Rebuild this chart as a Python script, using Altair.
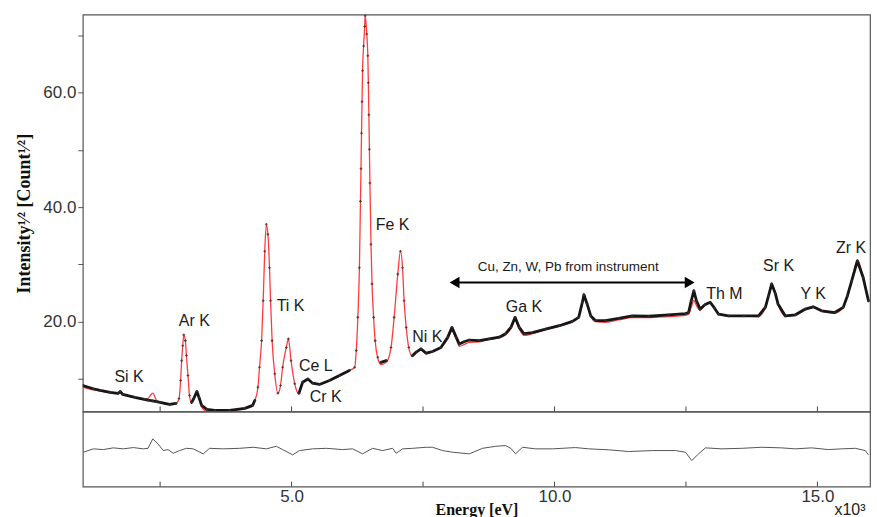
import altair as alt
import pandas as pd

# ---------------- data ----------------
energy_kev = [1.03, 1.23, 1.36, 1.55, 1.70, 1.74, 1.79, 2.02, 2.20, 2.27, 2.36, 2.43, 2.50, 2.68, 2.80,
              2.86, 2.89, 2.91, 2.93, 2.95, 2.98, 3.00, 3.03, 3.06, 3.10, 3.14, 3.20, 3.24, 3.29, 3.39,
              3.54, 3.82, 4.11, 4.26, 4.30, 4.36, 4.39, 4.43, 4.46, 4.49, 4.52, 4.55, 4.58, 4.60, 4.63,
              4.68, 4.74, 4.79, 4.83, 4.90, 4.94, 4.99, 5.06, 5.14, 5.21, 5.31, 5.40, 5.53, 5.72, 5.91,
              6.10, 6.20, 6.23, 6.26, 6.29, 6.31, 6.32, 6.33, 6.34, 6.35, 6.37, 6.39, 6.40, 6.43, 6.45,
              6.46, 6.47, 6.48, 6.49, 6.51, 6.53, 6.56, 6.59, 6.64, 6.70, 6.80, 6.89, 6.95, 7.02, 7.07,
              7.11, 7.14, 7.18, 7.23, 7.30, 7.37, 7.46, 7.56, 7.68, 7.84, 7.97, 8.05, 8.13, 8.19, 8.28,
              8.38, 8.57, 8.76, 8.95, 9.07, 9.17, 9.25, 9.33, 9.42, 9.58, 9.83, 10.09, 10.34, 10.46, 10.53,
              10.56, 10.62, 10.69, 10.78, 10.97, 11.22, 11.48, 11.79, 12.17, 12.49, 12.55, 12.60, 12.65, 12.70, 12.77,
              12.86, 12.96, 13.04, 13.12, 13.31, 13.60, 13.88, 14.01, 14.07, 14.13, 14.20, 14.25, 14.39, 14.58, 14.77,
              14.92, 15.08, 15.33, 15.49, 15.57, 15.65, 15.76, 15.87, 15.97]

measured = [8.87, 8.3, 8.0, 7.65, 7.48, 7.83, 7.30, 6.78, 6.45, 6.3, 6.17, 6.05, 5.91, 5.57, 5.74,
            6.6, 9.74, 13.2, 15.8, 17.7, 16.7, 14.1, 10.6, 7.13, 5.91, 6.6, 7.83, 6.78, 5.39, 4.70,
            4.52, 4.52, 4.87, 5.39, 6.26, 8.57, 12.05, 16.7, 23.65, 32.3, 37.0, 35.25, 29.4, 23.65, 16.7,
            10.9, 7.53, 8.87, 12.05, 15.5, 17.0, 13.2, 9.17, 7.53, 9.44, 10.0, 9.27, 9.04, 9.74, 10.6,
            11.5, 12.05, 14.96, 20.75, 29.4, 41.0, 46.7, 52.9, 58.4, 63.8, 68.1, 71.5, 73.4, 70.2, 66.4,
            61.7, 56.1, 50.1, 44.2, 33.5, 26.6, 20.75, 16.7, 13.8, 12.9, 13.2, 15.5, 20.75, 28.3, 32.3,
            29.4, 23.65, 19.0, 15.5, 14.1, 14.7, 15.25, 14.5, 14.8, 15.5, 17.3, 19.0, 17.3, 16.1, 16.5,
            16.8, 16.7, 17.0, 17.3, 17.9, 19.0, 20.75, 19.0, 17.9, 18.1, 18.7, 19.3, 20.05, 20.75, 23.4,
            24.7, 23.1, 21.0, 20.2, 20.2, 20.6, 21.0, 20.95, 21.2, 21.4, 21.6, 23.65, 25.4, 23.65, 22.2,
            22.95, 23.4, 22.4, 21.3, 21.0, 21.0, 21.0, 22.5, 24.5, 26.6, 24.9, 23.1, 21.0, 21.2, 22.2,
            22.6, 21.9, 21.6, 22.5, 24.5, 27.1, 30.6, 27.7, 23.65]

fit = [8.6, 8.1, 7.9, 7.6, 7.45, 7.6, 7.3, 6.75, 6.4, 6.6, 7.55, 6.3, 5.9, 5.5, 5.7,
       6.6, 9.74, 13.2, 15.8, 17.6, 16.7, 14.1, 10.6, 7.0, 5.8, 6.6, 7.7, 6.7, 5.1, 4.4,
       4.45, 4.5, 4.8, 5.3, 6.2, 8.5, 12.0, 16.7, 23.65, 32.3, 37.0, 35.25, 29.4, 23.65, 16.7,
       10.9, 7.5, 8.87, 12.05, 15.5, 17.0, 13.2, 9.17, 7.4, 9.3, 9.9, 9.3, 9.1, 9.7, 10.5,
       11.5, 12.05, 14.96, 20.75, 29.4, 41.0, 46.7, 52.9, 58.4, 63.8, 68.1, 71.5, 73.5, 70.2, 66.4,
       61.7, 56.1, 50.1, 44.2, 33.5, 26.6, 20.75, 16.6, 13.6, 12.5, 12.9, 15.4, 20.75, 28.3, 32.3,
       29.4, 23.65, 19.0, 15.4, 13.9, 14.5, 15.1, 14.4, 14.8, 15.5, 17.0, 18.4, 17.0, 15.7, 16.0,
       16.4, 16.5, 16.9, 17.2, 17.7, 18.8, 20.3, 18.7, 17.6, 17.9, 18.6, 19.2, 20.0, 20.8, 23.4,
       24.7, 23.1, 21.0, 20.0, 19.9, 20.3, 20.7, 20.7, 20.9, 21.1, 21.3, 22.5, 23.7, 22.8, 22.0,
       22.9, 23.4, 22.4, 21.3, 21.0, 21.0, 20.9, 22.5, 24.5, 26.6, 24.9, 23.1, 21.0, 21.1, 22.1,
       22.5, 21.8, 21.5, 22.5, 24.5, 27.1, 30.8, 27.7, 23.4]

res_energy = [1.04, 1.23, 1.42, 1.61, 1.80, 1.99, 2.18, 2.27, 2.36, 2.46, 2.56, 2.65, 2.75, 2.87, 3.00,
              3.13, 3.32, 3.44, 3.70, 4.01, 4.27, 4.52, 4.71, 4.83, 5.02, 5.15, 5.40, 5.66, 5.97, 6.16,
              6.35, 6.54, 6.73, 6.92, 6.99, 7.11, 7.30, 7.56, 7.68, 7.87, 8.06, 8.38, 8.63, 8.88, 9.07,
              9.17, 9.26, 9.39, 9.64, 9.96, 10.40, 10.65, 11.03, 11.41, 11.86, 12.30, 12.49, 12.61, 12.74, 12.87,
              13.18, 13.56, 13.94, 14.32, 14.58, 14.89, 15.21, 15.46, 15.72, 15.91, 15.97]
residual = [-0.42, 0.03, -0.07, 0.16, 0.03, 0.2, 0.03, 0.1, 1.36, 0.69, -0.2, -0.07, -0.56, -0.2, 0.1,
            0.03, -0.64, 0.1, 0.03, 0.1, 0.24, 0.03, 0.37, -0.07, -0.77, -0.2, 0.03, 0.1, -0.07, 0.03,
            -0.64, 0.1, -0.2, 0.1, -0.56, 0.03, 0.1, 0.24, 0.24, -0.2, -0.42, -0.64, 0.1, 0.37, 0.47,
            0.1, -0.64, 0.24, 0.03, 0.03, 0.2, 0.03, -0.1, -0.33, -0.2, -0.2, -0.42, -1.53, -0.64, 0.16,
            0.03, 0.1, 0.24, 0.16, 0.03, 0.16, -0.07, 0.03, 0.1, -0.2, -0.77]

x_ticks = [2.5, 5.0, 7.5, 10.0, 12.5, 15.0]
x_labels = [5.0, 10.0, 15.0]
y_ticks = [10, 20, 30, 40, 50, 60, 70]

peak_names = ["Si K", "Ar K", "Ti K", "Ce L", "Cr K", "Fe K", "Ni K", "Ga K", "Th M", "Sr K", "Y K", "Zr K"]
peak_E = [1.91, 3.15, 4.98, 5.46, 5.65, 6.92, 7.58, 9.42, 13.23, 14.26, 14.92, 15.64]
peak_I = [10.35, 20.2, 22.8, 12.35, 6.8, 36.9, 17.3, 22.6, 24.8, 29.7, 24.8, 32.8]

note_text = ["Cu, Zn, W, Pb from instrument"]
note_E = [10.26]
note_I = [29.6]
arrow_E = [8.10, 12.57]
arrow_I = [26.85, 26.85]
arrow_shape = ["triangle-left", "triangle-right"]

# ---------------- scales / axes ----------------
X_DOM = [1.03, 16.0]
Y_DOM = [4.3, 73.6]
R_DOM = [-5.0, 5.0]
xs = alt.Scale(domain=X_DOM, nice=False, zero=False)
ys = alt.Scale(domain=Y_DOM, nice=False, zero=False)
rs = alt.Scale(domain=R_DOM, nice=False, zero=False)

SANS = "Liberation Sans"
SERIF = "Liberation Serif"

y_axis = alt.Axis(values=y_ticks,
                  labelExpr="datum.value % 20 == 0 ? format(datum.value, '.1f') : ''",
                  title="Intensity¹⁄² [Count¹⁄²]", titleFont=SERIF, titleFontWeight="bold",
                  titleFontSize=18, titleColor="#111", titleX=-53, titleY=199,
                  titleBaseline="alphabetic", titleAngle=270,
                  labelFont=SANS, labelFontSize=17, labelColor="#333", labelPadding=2,
                  tickSize=5, tickColor="#555", domain=False, grid=False)

x_axis = alt.Axis(values=x_labels, format=".1f", title="Energy [eV]",
                  titleFont=SERIF, titleFontWeight="bold", titleFontSize=16, titleColor="#111",
                  titleY=15, titleBaseline="top",
                  labelFont=SANS, labelFontSize=17, labelColor="#333", labelPadding=2,
                  tickSize=0, domain=False, grid=False)

X_top = alt.X("E:Q", scale=xs, axis=None)
Y_top = alt.Y("I:Q", scale=ys, axis=y_axis)

spec = pd.DataFrame({"E": energy_kev, "I": measured})
spec_fit = pd.DataFrame({"E": energy_kev, "I": fit})

# red fitted curve
red_line = alt.Chart(spec_fit).mark_line(color="#ff3c3c", strokeWidth=1.3, interpolate="monotone",
                                         strokeJoin="round", clip=True).encode(x=X_top, y=Y_top)

# measured spectrum: dense markers merge into a thick black band where the
# spectrum is flat; on the steep flanks of the peaks only separate markers show
black_band = alt.Chart(spec).transform_window(
    pI="lag(I)", pE="lag(E)", nI="lead(I)", nE="lead(E)", sort=[alt.SortField("E")]
).transform_calculate(
    sp="isValid(datum.pI) ? abs(datum.I - datum.pI) / (datum.E - datum.pE) : 0",
    sn="isValid(datum.nI) ? abs(datum.nI - datum.I) / (datum.nE - datum.E) : 0",
).transform_calculate(
    Iflat="max(datum.sp, datum.sn) < 45 ? datum.I : null",
).mark_line(color="#161616", strokeWidth=2.8, strokeJoin="round", strokeCap="round",
            clip=True).encode(
    x=X_top, y=alt.Y("Iflat:Q", scale=ys, axis=y_axis))

pts = alt.Chart(spec).mark_point(shape="cross", filled=True, size=7, color="#333", opacity=0.85,
                                 clip=True).encode(x=X_top, y=Y_top)

labels_df = pd.DataFrame({"E": peak_E, "I": peak_I, "t": peak_names})
peak_text = alt.Chart(labels_df).mark_text(font=SANS, fontSize=16, color="#1a1a1a",
                                           align="center", baseline="middle").encode(
    x=X_top, y=Y_top, text="t:N")

note_df = pd.DataFrame({"E": note_E, "I": note_I, "t": note_text})
note = alt.Chart(note_df).mark_text(font=SANS, fontSize=13.5, color="#1a1a1a",
                                    align="center", baseline="middle").encode(x=X_top, y=Y_top, text="t:N")

arrow_df = pd.DataFrame({"E": arrow_E, "I": arrow_I, "s": arrow_shape})
arrow_line = alt.Chart(arrow_df).mark_line(color="#000", strokeWidth=2).encode(x=X_top, y=Y_top)
arrow_heads = alt.Chart(arrow_df).mark_point(filled=True, size=130, color="#000", opacity=1).encode(
    x=X_top, y=Y_top,
    shape=alt.Shape("s:N", scale=alt.Scale(domain=arrow_shape, range=arrow_shape), legend=None))

ticks_df = pd.DataFrame({"E": x_ticks})
top_ticks = alt.Chart(ticks_df).mark_rule(color="#444", strokeWidth=1).encode(
    x=X_top, y=alt.YDatum(4.3, scale=ys, axis=y_axis), y2=alt.Y2Datum(5.2))

top = alt.layer(red_line, black_band, pts, peak_text, note, arrow_line, arrow_heads,
                top_ticks).properties(width=789, height=398)

# ---------------- residual panel ----------------
X_bot = alt.X("E:Q", scale=xs, axis=x_axis)
R_bot = alt.Y("r:Q", scale=rs, axis=None)
res_df = pd.DataFrame({"E": res_energy, "r": residual})
res_line = alt.Chart(res_df).mark_line(color="#555", strokeWidth=1).encode(x=X_bot, y=R_bot)
bot_ticks = alt.Chart(ticks_df).mark_rule(color="#444", strokeWidth=1).encode(
    x=X_bot, y=alt.YDatum(-5.0, scale=rs, axis=None), y2=alt.Y2Datum(-4.35))
x10_df = pd.DataFrame({"E": [15.62], "r": [-8.2], "t": ["x10³"]})
x10 = alt.Chart(x10_df).mark_text(font=SANS, fontSize=16, color="#222", align="center",
                                  baseline="middle").encode(x=X_bot, y=R_bot, text="t:N")

bottom = alt.layer(res_line, bot_ticks, x10).properties(width=789, height=75)

chart = alt.vconcat(top, bottom, spacing=0, bounds="flush").properties(
    padding={"left": 15, "top": 13, "right": 5, "bottom": 0},
    background="white",
).configure_view(stroke="#555", strokeWidth=1.2).configure_axis(grid=False)

chart.save("out.html", embed_options={"renderer": "svg", "actions": False})
